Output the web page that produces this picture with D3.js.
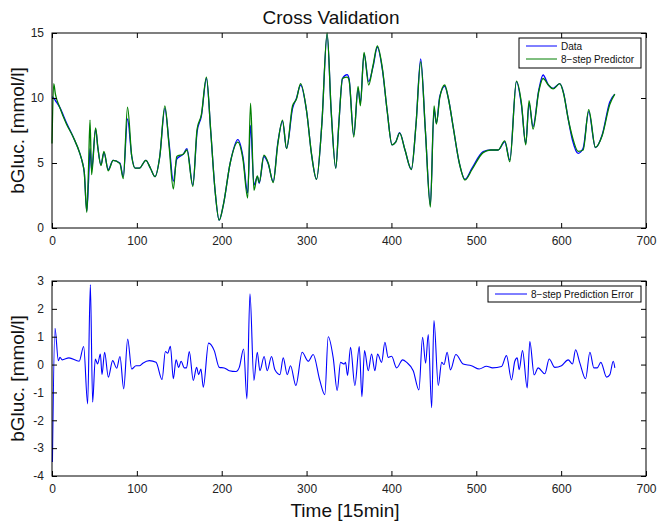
<!DOCTYPE html>
<html>
<head>
<meta charset="utf-8">
<script src="https://cdn.jsdelivr.net/npm/d3@7"></script>
<style>
  body { margin: 0; background: #fff; }
  svg { font-family: "Liberation Sans", Arial, Helvetica, sans-serif; }
</style>
</head>
<body>
<svg id="chart" width="657" height="524"></svg>
<script>
// time axis in 15 min steps, glucose in mmol/l
const timeBG = [0, 2, 4, 9, 17, 25, 33, 36, 38, 41, 43, 44.8, 46.7, 51.4, 54, 57.7, 61.2, 66.3, 72, 80,
  84, 89, 94, 98, 103, 110.6, 116, 121.4, 127, 133, 138, 143, 147, 155, 159, 166, 171, 176, 182, 187,
  192, 197, 202, 210, 219, 225, 230.6, 234, 238, 242, 244.2, 249.7, 254.8, 260.7, 266, 271.7, 276.4, 283.5, 288, 293,
  300, 306, 311.7, 318, 324.2, 329, 334.4, 338, 342.3, 347.8, 350, 355.6, 360.7, 363.4, 367.7, 373.2, 378.3, 383.4, 389.3, 395,
  400.7, 405, 409.7, 416, 423.5, 429, 434.5, 440, 445.9, 450.2, 453, 456.9, 462.8, 467, 472.7, 480, 486.7, 495, 508.1, 517,
  525.7, 533.6, 539.5, 547.3, 553.2, 558.3, 562.2, 566.9, 573.6, 578.7, 585, 590.5, 598.3, 603, 608, 613.3, 620, 625.9, 632.5, 640.4,
  648.3, 657.3, 663.2]
const bgData = [10.1, 10.0, 9.8, 9.3, 8.1, 7.0, 5.7, 5.0, 4.3, 1.3, 3.5, 6.1, 4.5, 7.6, 6.2, 4.85, 5.8, 4.5, 5.2, 5.0,
  3.95, 8.4, 5.5, 4.6, 4.6, 5.2, 4.6, 3.95, 5.5, 9.2, 6.5, 3.6, 5.3, 5.7, 6.1, 3.3, 7.4, 8.6, 11.5, 7.5,
  3.0, 0.6, 1.8, 5.0, 6.8, 5.5, 2.7, 7.9, 3.3, 3.95, 3.44, 5.5, 4.95, 3.56, 6.5, 8.2, 6.13, 9.2, 9.97, 11.0,
  9.0, 5.6, 3.74, 8.0, 14.9, 9.0, 4.6, 8.0, 11.5, 11.8, 11.5, 7.15, 10.7, 9.6, 13.4, 11.26, 12.4, 13.9, 12.2, 9.0,
  6.4, 6.6, 7.33, 6.0, 4.5, 8.0, 13.0, 7.5, 1.77, 9.1, 8.05, 10.1, 10.9, 10.0, 7.8, 5.0, 3.74, 4.6, 5.87, 6.0,
  6.0, 6.62, 5.23, 11.26, 9.46, 6.5, 9.59, 7.8, 10.6, 11.77, 11.0, 10.74, 11.1, 10.36, 8.5, 6.77, 5.74, 6.13, 8.95, 6.18,
  7.15, 9.7, 10.3]
const bgPred = [6.5, 11.1, 10.3, 9.3, 8.0, 7.0, 5.7, 5.0, 4.3, 1.2, 4.5, 8.3, 4.1, 7.7, 6.2, 4.8, 5.9, 4.4, 5.2, 4.95,
  3.8, 9.3, 5.5, 4.6, 4.6, 5.2, 4.6, 3.95, 5.5, 9.4, 6.3, 3.0, 5.5, 5.7, 6.0, 3.2, 7.6, 8.7, 11.6, 7.5,
  3.0, 0.6, 1.8, 5.0, 6.6, 5.3, 2.3, 9.6, 2.9, 4.0, 3.5, 5.6, 5.0, 3.5, 6.4, 8.3, 6.1, 9.4, 9.9, 11.1,
  9.0, 5.6, 3.74, 8.0, 15.0, 9.0, 4.6, 8.0, 11.5, 11.6, 11.4, 7.0, 10.9, 9.4, 13.5, 11.0, 12.5, 14.0, 12.3, 9.0,
  6.4, 6.6, 7.3, 6.0, 4.5, 8.0, 12.8, 7.5, 1.6, 9.4, 8.0, 10.0, 11.0, 10.0, 7.8, 5.0, 3.7, 4.5, 5.8, 6.0,
  6.0, 6.7, 5.1, 11.3, 9.6, 6.4, 9.8, 7.6, 10.5, 11.5, 11.0, 10.7, 11.1, 10.3, 8.5, 7.0, 5.9, 6.0, 9.1, 6.2,
  7.1, 9.5, 10.3]

const timeErr = [0.5, 3.5, 7.5, 9.4, 12, 20, 32, 37.3, 42, 45.2, 47.9, 51, 53.8, 57, 58.9, 62, 66.4, 71.5, 76.2, 80.1,
  84.5, 89.2, 93.9, 99, 103, 107, 114.7, 122.6, 129.7, 133.6, 136.4, 139.5, 143, 146.2, 149.3, 152.1, 156, 158.5, 161.8, 166.5,
  170.4, 172.8, 175.5, 178.3, 184.5, 191.2, 197.1, 203, 208.9, 216.8, 220.7, 225.8, 229.7, 233.3, 237.9, 241.9, 245, 250, 253.6, 258.7,
  262.7, 268.6, 272.5, 277.2, 281.1, 287.4, 294.8, 301.9, 307.8, 315.6, 321.5, 325.5, 331.4, 336.1, 340, 344.4, 345.9, 348.3, 351.8, 356.9,
  362.1, 365.2, 368.3, 372.7, 376.6, 380.5, 383.7, 388.4, 392.3, 396.2, 400.2, 406.1, 413.2, 417.9, 425.7, 432.4, 436.7, 440.3, 443.4, 447.4,
  450.1, 455.2, 459.2, 462, 465.6, 469.6, 475.9, 484.5, 494.3, 503.4, 512, 519.1, 529.7, 535.6, 541.5, 545.4, 548.2, 550.5, 554.5, 560,
  563.1, 568.2, 572.9, 580.8, 585.9, 592.6, 600.4, 608.3, 613.4, 617, 622.1, 628.8, 633.9, 638.6, 642.5, 646.8, 653.5, 657.4, 661.4, 663.3]
const errVals = [-3.5, 1.3, 0.14, 0.26, 0.17, 0.24, 0.12, 0.65, -1.41, 2.87, -1.35, 0.2, 0.02, 0.38, -0.36, 0.44, -0.45, 0.14, -0.13, 0.29,
  -0.87, 0.92, -0.16, -0.04, -0.04, 0.05, 0.14, 0.08, -0.54, 0.47, 0.41, 0.66, -0.51, 0.17, -0.1, 0.12, -0.12, -0.12, 0.47, -0.57,
  -0.1, -0.36, -0.16, -0.81, 0.77, 0.5, -0.1, -0.12, -0.22, -0.25, -0.1, 0.56, -1.23, 2.54, -0.57, 0.44, -0.22, 0.29, -0.22, 0.29,
  -0.19, -0.36, 0.24, -0.36, -0.04, -0.75, 0.44, 0.12, 0.36, -0.57, -1.08, 1.0, 0.24, -0.93, 0.08, 0.02, 0.08, -0.39, 0.62, -0.75,
  0.65, -1.15, 0.5, -0.22, 0.38, -0.22, 0.38, 0.08, 0.8, 0.26, 0.3, -0.12, 0.17, 0.08, -0.22, -0.91, 0.98, 0.05, 1.08, -1.55,
  1.58, -0.75, 0.08, 0.0, 0.44, -0.19, 0.36, 0.02, -0.04, -0.16, -0.06, -0.12, -0.07, 0.32, -0.55, 0.12, 0.24, -0.18, 0.5, -0.84,
  0.83, -0.37, -0.12, -0.33, 0.2, -0.1, -0.04, 0.17, 0.02, 0.53, 0.05, -0.51, 0.44, -0.12, -0.12, 0.08, -0.45, -0.36, 0.12, -0.12]

const xTicks = [0, 100, 200, 300, 400, 500, 600, 700]
const yTicksTop = [0, 5, 10, 15]
const yTicksBottom = [-4, -3, -2, -1, 0, 1, 2, 3]

const svg = d3.select('#chart')
const left = 52, right = 646
const fmt = d => String(d)

const x = d3.scaleLinear().domain([0, 700]).range([left, right])

/**
 * draws one MATLAB style axes box with inward ticks on all sides
 */
const drawAxes = (g, y, yTicks, top, bottom) => {
  const tick = 5
  g.append('g')
    .attr('transform', `translate(0,${bottom})`)
    .call(d3.axisBottom(x).tickValues(xTicks).tickSizeInner(-tick).tickSizeOuter(0).tickPadding(8).tickFormat(fmt))
  g.append('g')
    .attr('transform', `translate(0,${top})`)
    .call(d3.axisTop(x).tickValues(xTicks).tickSizeInner(-tick).tickSizeOuter(0).tickFormat(''))
  g.append('g')
    .attr('transform', `translate(${left},0)`)
    .call(d3.axisLeft(y).tickValues(yTicks).tickSizeInner(-tick).tickSizeOuter(0).tickPadding(8).tickFormat(fmt))
  g.append('g')
    .attr('transform', `translate(${right},0)`)
    .call(d3.axisRight(y).tickValues(yTicks).tickSizeInner(-tick).tickSizeOuter(0).tickFormat(''))

  g.selectAll('.domain').remove()
  g.selectAll('.tick line').attr('stroke', '#000')
  g.selectAll('.tick text')
    .attr('font-size', 12)
    .attr('fill', '#222')
    .attr('font-family', '"Liberation Sans", Arial, sans-serif')

  g.append('rect')
    .attr('x', left)
    .attr('y', top)
    .attr('width', right - left)
    .attr('height', bottom - top)
    .attr('fill', 'none')
    .attr('stroke', '#000')
    .attr('stroke-width', 1)
}

const drawLegend = (g, items, box) => {
  g.append('rect')
    .attr('x', box.x).attr('y', box.y)
    .attr('width', box.w).attr('height', box.h)
    .attr('fill', '#fff').attr('stroke', '#000').attr('stroke-width', 1)
  items.forEach((d, i) => {
    const yy = box.y + 8 + i * 13
    g.append('line')
      .attr('x1', box.x + 7).attr('x2', box.x + 7 + box.line)
      .attr('y1', yy).attr('y2', yy)
      .attr('stroke', d.color).attr('stroke-width', 1)
    g.append('text')
      .attr('x', box.x + 11 + box.line).attr('y', yy + 3.5)
      .attr('font-size', 10).attr('fill', '#111')
      .text(d.label)
  })
}

// top panel
const topT = 33, topB = 228
const yTop = d3.scaleLinear().domain([0, 15]).range([topB, topT])
const gTop = svg.append('g')

const lineTop = (vals) => d3.line()
  .x((d, i) => x(timeBG[i]))
  .y(d => yTop(d))
  .curve(d3.curveMonotoneX)(vals)

gTop.append('path')
  .attr('d', lineTop(bgData))
  .attr('fill', 'none').attr('stroke', '#0000ff').attr('stroke-width', 1.3)
gTop.append('path')
  .attr('d', lineTop(bgPred))
  .attr('fill', 'none').attr('stroke', '#007f00').attr('stroke-width', 1.3)

drawAxes(gTop, yTop, yTicksTop, topT, topB)
drawLegend(gTop, [
  { label: 'Data', color: '#0000ff' },
  { label: '8\u2212step Predictor', color: '#007f00' }
], { x: 519, y: 38, w: 122, h: 30, line: 31 })

// bottom panel
const botT = 281, botB = 476
const yBot = d3.scaleLinear().domain([-4, 3]).range([botB, botT])
const gBot = svg.append('g')

gBot.append('path')
  .attr('d', d3.line()
    .x((d, i) => x(timeErr[i]))
    .y(d => yBot(d))
    .curve(d3.curveMonotoneX)(errVals))
  .attr('fill', 'none').attr('stroke', '#0000ff').attr('stroke-width', 1.1)

drawAxes(gBot, yBot, yTicksBottom, botT, botB)
drawLegend(gBot, [
  { label: '8\u2212step Prediction Error', color: '#0000ff' }
], { x: 488, y: 286, w: 153, h: 16, line: 32 })

// titles
svg.append('text')
  .attr('x', 331).attr('y', 24)
  .attr('text-anchor', 'middle')
  .attr('font-size', 19).attr('fill', '#111')
  .text('Cross Validation')

svg.append('text')
  .attr('transform', `translate(24,${(topT + topB) / 2}) rotate(-90)`)
  .attr('text-anchor', 'middle')
  .attr('font-size', 19).attr('fill', '#111')
  .text('bGluc. [mmol/l]')

svg.append('text')
  .attr('transform', `translate(24,${(botT + botB) / 2}) rotate(-90)`)
  .attr('text-anchor', 'middle')
  .attr('font-size', 19).attr('fill', '#111')
  .text('bGluc. [mmol/l]')

svg.append('text')
  .attr('x', 345).attr('y', 517)
  .attr('text-anchor', 'middle')
  .attr('font-size', 19).attr('fill', '#111')
  .text('Time [15min]')
</script>
</body>
</html>
